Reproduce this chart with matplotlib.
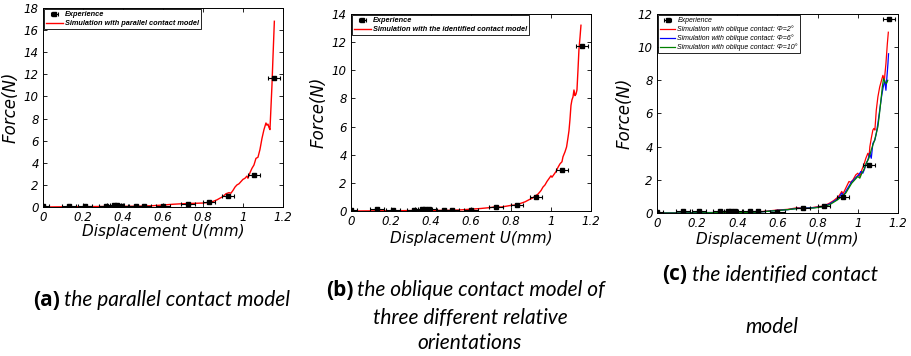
import numpy as np
import matplotlib
matplotlib.use("Agg")
import matplotlib.pyplot as plt

# experimental points (same set in all three panels)
exp_u = [0.0, 0.13, 0.21, 0.315, 0.355, 0.37, 0.39, 0.465, 0.505, 0.60, 0.725, 0.83, 0.925, 1.055, 1.155]
exp_f = [0.05, 0.12, 0.10, 0.10, 0.15, 0.15, 0.12, 0.10, 0.10, 0.05, 0.30, 0.45, 0.97, 2.90, 11.7]
exp_err = [0.03, 0.035, 0.035, 0.035, 0.035, 0.035, 0.035, 0.035, 0.035, 0.035, 0.035, 0.03, 0.03, 0.03, 0.03]

# (a) parallel contact model
sim_a = [(0.0, 0.0), (0.1, 0.02), (0.2, 0.03), (0.3, 0.05), (0.4, 0.06), (0.5, 0.08),
         (0.55, 0.12), (0.6, 0.18), (0.65, 0.25), (0.7, 0.30), (0.75, 0.33), (0.8, 0.36),
         (0.83, 0.42), (0.85, 0.50), (0.87, 0.65), (0.88, 0.75), (0.9, 0.95), (0.915, 1.2),
         (0.93, 1.3), (0.94, 1.25), (0.95, 1.5), (0.96, 1.8), (0.97, 2.0), (0.98, 2.1),
         (1.0, 2.5), (1.01, 2.6), (1.02, 2.8), (1.025, 2.6), (1.035, 3.1), (1.045, 3.5),
         (1.055, 3.8), (1.065, 4.4), (1.075, 4.5), (1.085, 5.2), (1.095, 6.2), (1.105, 7.0),
         (1.115, 7.6), (1.12, 7.4), (1.125, 7.5), (1.13, 7.2), (1.135, 7.0), (1.14, 9.0),
         (1.145, 11.0), (1.15, 13.5), (1.157, 16.8)]

# (b) identified contact model
sim_b = [(0.0, 0.0), (0.1, 0.01), (0.2, 0.02), (0.3, 0.03), (0.4, 0.04), (0.5, 0.05),
         (0.55, 0.08), (0.6, 0.13), (0.65, 0.18), (0.7, 0.25), (0.72, 0.30), (0.75, 0.28),
         (0.78, 0.35), (0.8, 0.40), (0.82, 0.42), (0.85, 0.55), (0.87, 0.65), (0.89, 0.80),
         (0.905, 0.9), (0.92, 1.05), (0.935, 1.2), (0.95, 1.45), (0.96, 1.7), (0.97, 1.85),
         (0.98, 2.1), (0.99, 2.3), (1.0, 2.5), (1.005, 2.4), (1.015, 2.6), (1.025, 2.8),
         (1.035, 3.1), (1.045, 3.35), (1.055, 3.5), (1.06, 3.85), (1.07, 4.2), (1.078, 4.55),
         (1.085, 5.2), (1.09, 5.7), (1.095, 6.5), (1.1, 7.5), (1.105, 7.9), (1.11, 8.1),
         (1.115, 8.6), (1.12, 8.2), (1.125, 8.3), (1.13, 8.6), (1.135, 10.0), (1.14, 11.5),
         (1.145, 12.3), (1.15, 13.2)]

# (c) oblique contact, three orientations
sim_c2 = [(0.0, 0.0), (0.1, 0.0), (0.2, 0.02), (0.3, 0.03), (0.4, 0.04), (0.5, 0.06),
          (0.55, 0.12), (0.6, 0.18), (0.65, 0.22), (0.7, 0.32), (0.72, 0.28), (0.76, 0.30),
          (0.8, 0.38), (0.83, 0.42), (0.86, 0.60), (0.88, 0.75), (0.9, 0.95), (0.91, 1.1),
          (0.92, 1.3), (0.926, 1.15), (0.94, 1.5), (0.956, 1.9), (0.965, 1.85), (0.976, 2.0),
          (0.99, 2.3), (1.0, 2.4), (1.01, 2.2), (1.02, 2.6), (1.03, 2.9), (1.04, 3.3),
          (1.05, 3.6), (1.056, 3.4), (1.06, 4.0), (1.067, 4.5), (1.075, 5.0), (1.08, 5.1),
          (1.085, 5.0), (1.092, 6.2), (1.1, 7.0), (1.109, 7.6), (1.118, 8.0), (1.125, 8.3),
          (1.132, 8.0), (1.14, 9.0), (1.147, 10.2), (1.152, 10.9)]
sim_c6 = [(0.0, 0.0), (0.1, 0.0), (0.2, 0.02), (0.3, 0.03), (0.4, 0.04), (0.5, 0.05),
          (0.55, 0.1), (0.6, 0.16), (0.65, 0.2), (0.7, 0.28), (0.74, 0.30), (0.78, 0.32),
          (0.8, 0.35), (0.83, 0.4), (0.86, 0.55), (0.88, 0.7), (0.9, 0.85), (0.91, 1.0),
          (0.92, 1.2), (0.93, 1.05), (0.94, 1.3), (0.955, 1.6), (0.97, 1.9), (0.98, 2.0),
          (0.995, 2.2), (1.005, 2.3), (1.015, 2.5), (1.025, 2.4), (1.035, 2.7), (1.042, 3.0),
          (1.05, 3.2), (1.059, 3.6), (1.067, 3.3), (1.075, 4.2), (1.085, 4.4), (1.092, 4.8),
          (1.1, 5.4), (1.109, 6.2), (1.118, 7.0), (1.125, 7.5), (1.134, 8.0), (1.14, 7.4),
          (1.145, 8.2), (1.15, 9.0), (1.153, 9.6)]
sim_c10 = [(0.0, 0.0), (0.1, 0.0), (0.2, 0.01), (0.3, 0.02), (0.4, 0.03), (0.5, 0.05),
           (0.55, 0.1), (0.6, 0.15), (0.65, 0.2), (0.7, 0.27), (0.74, 0.28), (0.78, 0.3),
           (0.8, 0.33), (0.83, 0.38), (0.86, 0.5), (0.88, 0.65), (0.9, 0.8), (0.915, 0.95),
           (0.93, 1.1), (0.94, 1.2), (0.955, 1.5), (0.97, 1.8), (0.985, 2.0), (1.0, 2.2),
           (1.01, 2.1), (1.02, 2.4), (1.03, 2.6), (1.042, 3.0), (1.055, 3.3), (1.067, 3.8),
           (1.075, 4.1), (1.084, 4.4), (1.092, 4.8), (1.1, 5.2), (1.108, 6.0), (1.117, 7.0),
           (1.122, 7.6), (1.128, 8.1), (1.135, 7.9), (1.142, 7.8), (1.146, 7.9), (1.149, 8.0)]

x_ticks = [0, 0.2, 0.4, 0.6, 0.8, 1, 1.2]
x_tick_labels = ["0", "0.2", "0.4", "0.6", "0.8", "1", "1.2"]

label_font = dict(family="DejaVu Sans", style="italic", size=11)
ylabel_font = dict(family="DejaVu Sans", style="italic", size=12)
tick_font = dict(family="DejaVu Sans", style="italic", size=8.5)
cap_font = dict(family="Lato", style="italic", size=15)
tag_font = dict(family="Open Sans", weight="bold", size=15)
leg_bold = dict(family="Liberation Sans", style="italic", weight="bold", size=5.3)


def style_axes(ax, ymax, ystep):
    ax.set_xlim(0, 1.2)
    ax.set_ylim(0, ymax)
    ax.set_xticks(x_ticks)
    ax.set_xticklabels(x_tick_labels, fontdict=tick_font)
    yt = np.arange(0, ymax + 0.1, ystep)
    ax.set_yticks(yt)
    ax.set_yticklabels(["%g" % v for v in yt], fontdict=tick_font)
    ax.tick_params(direction="in", top=True, right=True, length=3, width=0.6, pad=3)
    for s in ax.spines.values():
        s.set_linewidth(0.7)


def plot_exp(ax):
    return ax.errorbar(exp_u, exp_f, xerr=exp_err, fmt="s", color="black", ms=3,
                       elinewidth=0.8, capsize=1.5, capthick=0.8, zorder=3)


def add_legend(ax, handles, labels, prop):
    leg = ax.legend(handles, labels, loc="upper left", prop=prop, fancybox=False,
                    edgecolor="black", framealpha=1, borderpad=0.3, handlelength=2.2,
                    handletextpad=0.3, labelspacing=0.2, borderaxespad=0.15)
    leg.get_frame().set_linewidth(0.6)


fig = plt.figure(figsize=(9.11, 3.56), dpi=100)

# panel a
ax1 = fig.add_axes([0.0472, 0.4185, 0.2634, 0.559])
u, f = zip(*sim_a)
e1 = plot_exp(ax1)
l1, = ax1.plot(u, f, color="red", lw=1.0)
style_axes(ax1, 18, 2)
add_legend(ax1, [e1, l1], ["Experience", "Simulation with parallel contact model"], leg_bold)
ax1.set_xlabel("Displacement U(mm)", fontdict=label_font, labelpad=0)
ax1.set_ylabel("Force(N)", fontdict=ylabel_font, labelpad=3)

# panel b
ax2 = fig.add_axes([0.3853, 0.4073, 0.2634, 0.5534])
u, f = zip(*sim_b)
e2 = plot_exp(ax2)
l2, = ax2.plot(u, f, color="red", lw=1.0)
style_axes(ax2, 14, 2)
add_legend(ax2, [e2, l2], ["Experience", "Simulation with the identified contact model"], leg_bold)
ax2.set_xlabel("Displacement U(mm)", fontdict=label_font, labelpad=2)
ax2.set_ylabel("Force(N)", fontdict=ylabel_font, labelpad=3)

# panel c
ax3 = fig.add_axes([0.7212, 0.4017, 0.2645, 0.559])
e3 = plot_exp(ax3)
handles = [e3]
for data, col in [(sim_c2, "red"), (sim_c6, "blue"), (sim_c10, "green")]:
    u, f = zip(*data)
    ln, = ax3.plot(u, f, color=col, lw=0.9)
    handles.append(ln)
style_axes(ax3, 12, 2)
add_legend(ax3, handles, ["Experience",
                          "Simulation with oblique contact: \u03a6=2\u00b0",
                          "Simulation with oblique contact: \u03a6=6\u00b0",
                          "Simulation with oblique contact: \u03a6=10\u00b0"],
           dict(family="Liberation Sans", style="italic", size=5.0))
ax3.set_xlabel("Displacement U(mm)", fontdict=label_font, labelpad=1)
ax3.set_ylabel("Force(N)", fontdict=ylabel_font, labelpad=3)

# captions under the panels
fig.text(33 / 911, 1 - 300 / 356, "(a)", ha="left", va="center", **tag_font)
fig.text(64 / 911, 1 - 300 / 356, "the parallel contact model", ha="left", va="center", **cap_font)
fig.text(326 / 911, 1 - 290 / 356, "(b)", ha="left", va="center", **tag_font)
fig.text(357 / 911, 1 - 290 / 356, "the oblique contact model of", ha="left", va="center", **cap_font)
fig.text(470 / 911, 1 - 318 / 356, "three different relative", ha="center", va="center", **cap_font)
fig.text(470 / 911, 1 - 343 / 356, "orientations", ha="center", va="center", **cap_font)
fig.text(662 / 911, 1 - 275 / 356, "(c)", ha="left", va="center", **tag_font)
fig.text(692 / 911, 1 - 275 / 356, "the identified contact", ha="left", va="center", **cap_font)
fig.text(772 / 911, 1 - 327 / 356, "model", ha="center", va="center", **cap_font)

fig.savefig("out.png", dpi=100)
